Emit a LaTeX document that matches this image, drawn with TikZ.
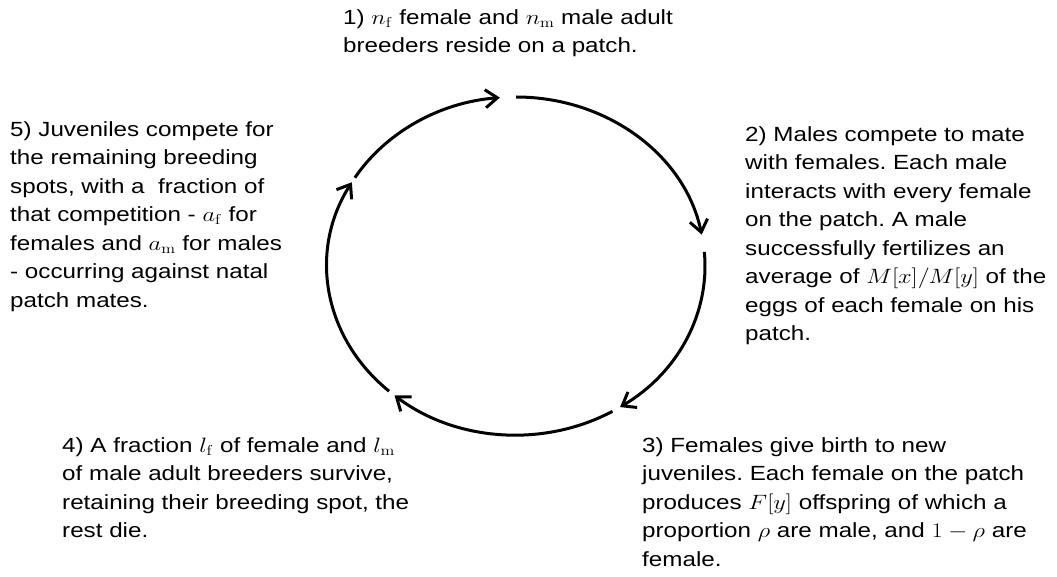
\documentclass[tikz,border=0pt]{standalone}
\usepackage[no-math]{fontspec}
\setmainfont{Liberation Sans}
\usetikzlibrary{arrows.meta}
\frenchspacing
\begin{document}
\begin{tikzpicture}[x=1pt,y=1pt,
  lbl/.style={anchor=north west, inner sep=0pt, align=left, xscale=1.18,
    font=\fontsize{20.5}{28.5}\selectfont},
  cyc/.style={line width=3pt, -{Straight Barb[length=12pt,width=18pt]}}]
\useasboundingbox (0,0) rectangle (1057,576);
\coordinate (c) at (516,310);
% start points of the five arcs on the ellipse
\coordinate (s1) at ([shift={(c)}]90:189 and 169);
\coordinate (s2) at ([shift={(c)}]4.8:189 and 169);
\coordinate (s3) at ([shift={(c)}]-59.3:189 and 169);
\coordinate (s4) at ([shift={(c)}]-132.2:189 and 169);
\coordinate (s5) at ([shift={(c)}]148.5:189 and 169);

\draw[cyc] (s1) arc[start angle=90, end angle=10.7, x radius=189, y radius=169];
\draw[cyc] (s2) arc[start angle=4.8, end angle=-56.6, x radius=189, y radius=169];
\draw[cyc] (s3) arc[start angle=-59.3, end angle=-130, x radius=189, y radius=169];
\draw[cyc] (s4) arc[start angle=-132.2, end angle=-209.7, x radius=189, y radius=169];
\draw[cyc] (s5) arc[start angle=148.5, end angle=94.9, x radius=189, y radius=169];

\node[lbl] (t1) at (343,567) {1) $n_{\mathrm{f}}$ female and $n_{\mathrm{m}}$ male adult\\breeders reside on a patch.};
\node[lbl] (t2) at (745,450) {2) Males compete to mate\\with females. Each male\\interacts with every female\\on the patch. A male\\successfully fertilizes an\\average of $M[x]/M[y]$ of the\\eggs of each female on his\\patch.};
\node[lbl] (t3) at (642,139) {3) Females give birth to new\\juveniles. Each female on the patch\\produces $F[y]$ offspring of which a\\proportion $\rho$ are male, and $1-\rho$ are\\female.};
\node[lbl] (t4) at (62,139) {4) A fraction $l_{\mathrm{f}}$ of female and $l_{\mathrm{m}}$\\of male adult breeders survive,\\retaining their breeding spot, the\\rest die.};
\node[lbl] (t5) at (10,455) {5) Juveniles compete for\\the remaining breeding\\spots, with a\ \ fraction of\\that competition - $a_{\mathrm{f}}$ for\\females and $a_{\mathrm{m}}$ for males\\- occurring against natal\\patch mates.};
\end{tikzpicture}
\end{document}
